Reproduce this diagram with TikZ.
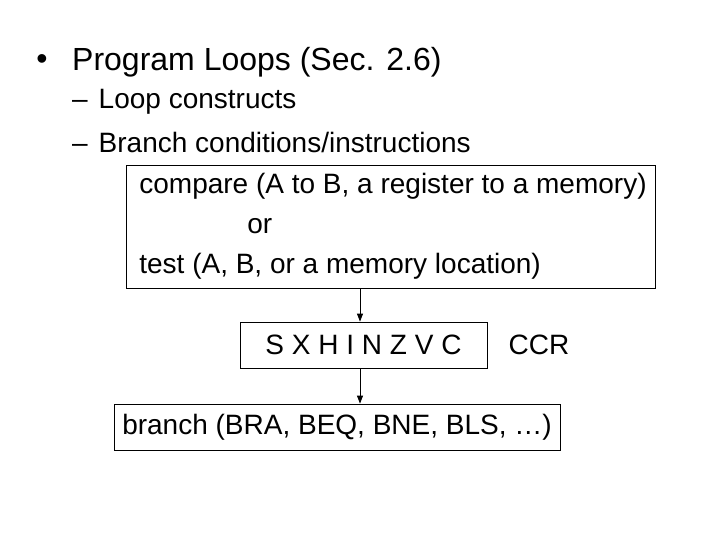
\documentclass[tikz,border=0pt]{standalone}
\usepackage{fontspec}
\setmainfont{Liberation Sans}
\usetikzlibrary{positioning,arrows.meta}

\begin{document}
\begin{tikzpicture}[x=1pt, y=-1pt, >={Triangle[length=8pt,width=6pt]},
  big/.style={font=\fontsize{32}{38}\selectfont, inner sep=0pt},
  txt/.style={font=\fontsize{28}{40}\selectfont, inner sep=0pt},
  box/.style={draw, line width=0.8pt, txt, inner sep=0pt}
]
  \useasboundingbox[fill=white] (0,0) rectangle (720,540);
  % heading and sub-items
  \node[big] (dot) at (42,62) {\textbullet};
  \node[big, anchor=west] (title) at (72,62) {Program Loops (Sec. 2.6)};
  \node[txt, anchor=west] (loop) at (72,102) {\textendash\hspace{11pt}Loop constructs};
  \node[txt, anchor=west] (branch) at (72,142) {\textendash\hspace{11pt}Branch conditions/instructions};
  % flow of boxes
  \node[box, minimum width=529pt, minimum height=123pt, align=left]
    (cmp) at (390.5,226.5) {\hspace*{5pt}compare (A to B, a register to a memory)\\
    \hspace*{113pt}or\\
    \hspace*{5pt}test (A, B, or a memory location)};
  \node[box, minimum width=247pt, minimum height=46pt] (flags) at (363.5,345) {S X H I N Z V C};
  \node[txt, right=21pt of flags] (ccr) {CCR};
  \node[box, minimum width=446pt, minimum height=46pt] (br) at (337,427) {branch (BRA, BEQ, BNE, BLS, \ldots)};
  \draw[->, line width=0.8pt] (cmp.south -| 360,0) -- (flags.north -| 360,0);
  \draw[->, line width=0.8pt] (flags.south -| 360,0) -- (br.north -| 360,0);
\end{tikzpicture}
\end{document}
